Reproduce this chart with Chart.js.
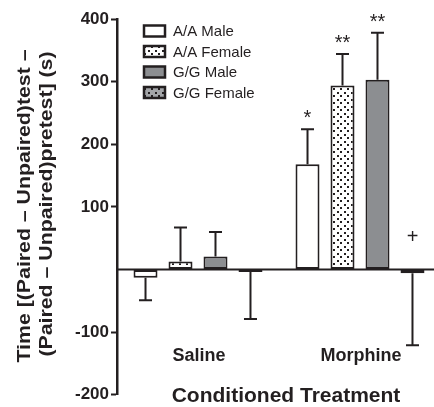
<!DOCTYPE html>
<html>
<head>
<meta charset="utf-8">
<script src="https://cdn.jsdelivr.net/npm/chart.js@4"></script>
<style>
html,body{margin:0;padding:0;background:#fff;overflow:hidden}
</style>
</head>
<body>
<canvas id="c" width="442" height="407"></canvas>
<script>
// data
const categories = ['Saline', 'Morphine']
const groups = ['A/A Male', 'A/A Female', 'G/G Male', 'G/G Female']
const aaMale = [-13, 168]
const aaMaleErr = [36, 56]
const aaFemale = [13, 294]
const aaFemaleErr = [54, 50]
const ggMale = [21, 303]
const ggMaleErr = [39, 75]
const ggFemale = [-4, -6]
const ggFemaleErr = [75, 115]
const aaMaleSig = ['', '*']
const aaFemaleSig = ['', '**']
const ggMaleSig = ['', '**']
const ggFemaleSig = ['', '+']
const yTicks = [-200, -100, 0, 100, 200, 300, 400]

const ink = '#231f20'
const yTitle = ['Time [(Paired \u2013 Unpaired)test \u2013', '(Paired \u2013 Unpaired)pretest] (s)']
const xTitle = 'Conditioned Treatment'

const dots = (bg) => {
    const c = document.createElement('canvas')
    c.width = 7; c.height = 7
    const g = c.getContext('2d')
    g.fillStyle = bg; g.fillRect(0, 0, 7, 7)
    g.fillStyle = ink
    g.fillRect(1, 1, 2, 2); g.fillRect(4, 4, 2, 2)
    return g.createPattern(c, 'repeat')
}

const bar = (label, data, err, sig, fill) => ({
    label, data, err, sig,
    backgroundColor: fill,
    borderColor: ink,
    borderWidth: 2,
    borderSkipped: false,
    categoryPercentage: 0.864,
    barPercentage: 0.686
})

const extras = {
    id: 'extras',
    afterDatasetsDraw(chart) {
        const {ctx, chartArea: a, scales: {x, y}} = chart
        ctx.save()
        ctx.strokeStyle = ink
        ctx.fillStyle = ink
        ctx.lineWidth = 2
        const y0 = y.getPixelForValue(0)
        ctx.beginPath(); ctx.moveTo(a.left, y0); ctx.lineTo(a.right, y0); ctx.stroke()

        chart.data.datasets.forEach((ds, i) => {
            chart.getDatasetMeta(i).data.forEach((el, j) => {
                const v = ds.data[j], e = ds.err[j]
                const end = v >= 0 ? v + e : v - e
                const yb = y.getPixelForValue(v), ye = y.getPixelForValue(end)
                ctx.beginPath()
                ctx.moveTo(el.x, yb); ctx.lineTo(el.x, ye)
                ctx.moveTo(el.x - 6.5, ye); ctx.lineTo(el.x + 6.5, ye)
                ctx.stroke()
                if (ds.sig[j]) {
                    ctx.font = '20px Arial'
                    ctx.textAlign = 'center'
                    ctx.textBaseline = 'alphabetic'
                    const ty = v >= 0 ? ye - 5 : y0 - 27
                    ctx.fillText(ds.sig[j], el.x, ty)
                }
            })
        })

        // category labels + x title
        ctx.font = 'bold 18px Arial'
        ctx.textAlign = 'center'
        ctx.textBaseline = 'alphabetic'
        categories.forEach((c, j) => ctx.fillText(c, x.getPixelForValue(j) + 1, y.getPixelForValue(-146)))
        ctx.font = 'bold 21px Arial'
        ctx.fillText(xTitle, 286, 402)

        // y title (a little stretched like the original)
        ctx.font = 'bold 19px Arial'
        ;[[30, 206], [52, 204]].forEach(([bx, cy], k) => {
            ctx.save()
            ctx.translate(bx, cy)
            ctx.rotate(-Math.PI / 2)
            ctx.scale(1.12, 1)
            ctx.fillText(yTitle[k], 0, 0)
            ctx.restore()
        })

        // legend
        ctx.font = '15px Arial'
        ctx.textAlign = 'left'
        ctx.textBaseline = 'middle'
        ctx.lineWidth = 2.5
        chart.data.datasets.forEach((ds, i) => {
            const cy = 31 + i * 20.5
            ctx.fillStyle = ds.backgroundColor
            ctx.fillRect(144, cy - 5.5, 21, 11)
            ctx.strokeRect(144, cy - 5.5, 21, 11)
            ctx.fillStyle = ink
            ctx.fillText(ds.label, 173, cy + 1)
        })
        ctx.restore()
    }
}

new Chart(document.getElementById('c'), {
    type: 'bar',
    data: {
        labels: categories,
        datasets: [
            bar(groups[0], aaMale, aaMaleErr, aaMaleSig, '#ffffff'),
            bar(groups[1], aaFemale, aaFemaleErr, aaFemaleSig, dots('#ffffff')),
            bar(groups[2], ggMale, ggMaleErr, ggMaleSig, '#8c8e91'),
            bar(groups[3], ggFemale, ggFemaleErr, ggFemaleSig, dots('#a3a5a8'))
        ]
    },
    options: {
        responsive: false,
        devicePixelRatio: 1,
        animation: false,
        layout: {padding: {top: 19, bottom: 11, left: 0, right: 1}},
        plugins: {
            legend: {display: false},
            tooltip: {enabled: false}
        },
        scales: {
            x: {display: false},
            y: {
                min: -200,
                max: 400,
                afterBuildTicks: s => { s.ticks = yTicks.map(v => ({value: v})) },
                afterFit: s => { s.width = 117 },
                border: {display: true, color: ink, width: 2.5},
                grid: {
                    drawOnChartArea: false,
                    drawTicks: true,
                    tickLength: 6,
                    tickWidth: 2,
                    tickColor: c => c.tick && c.tick.value === 0 ? 'rgba(0,0,0,0)' : ink
                },
                ticks: {
                    color: ink,
                    padding: 2,
                    font: {family: 'Arial', size: 17, weight: 'bold'},
                    callback: v => v === 0 ? '' : v
                }
            }
        }
    },
    plugins: [extras]
})
</script>
</body>
</html>
